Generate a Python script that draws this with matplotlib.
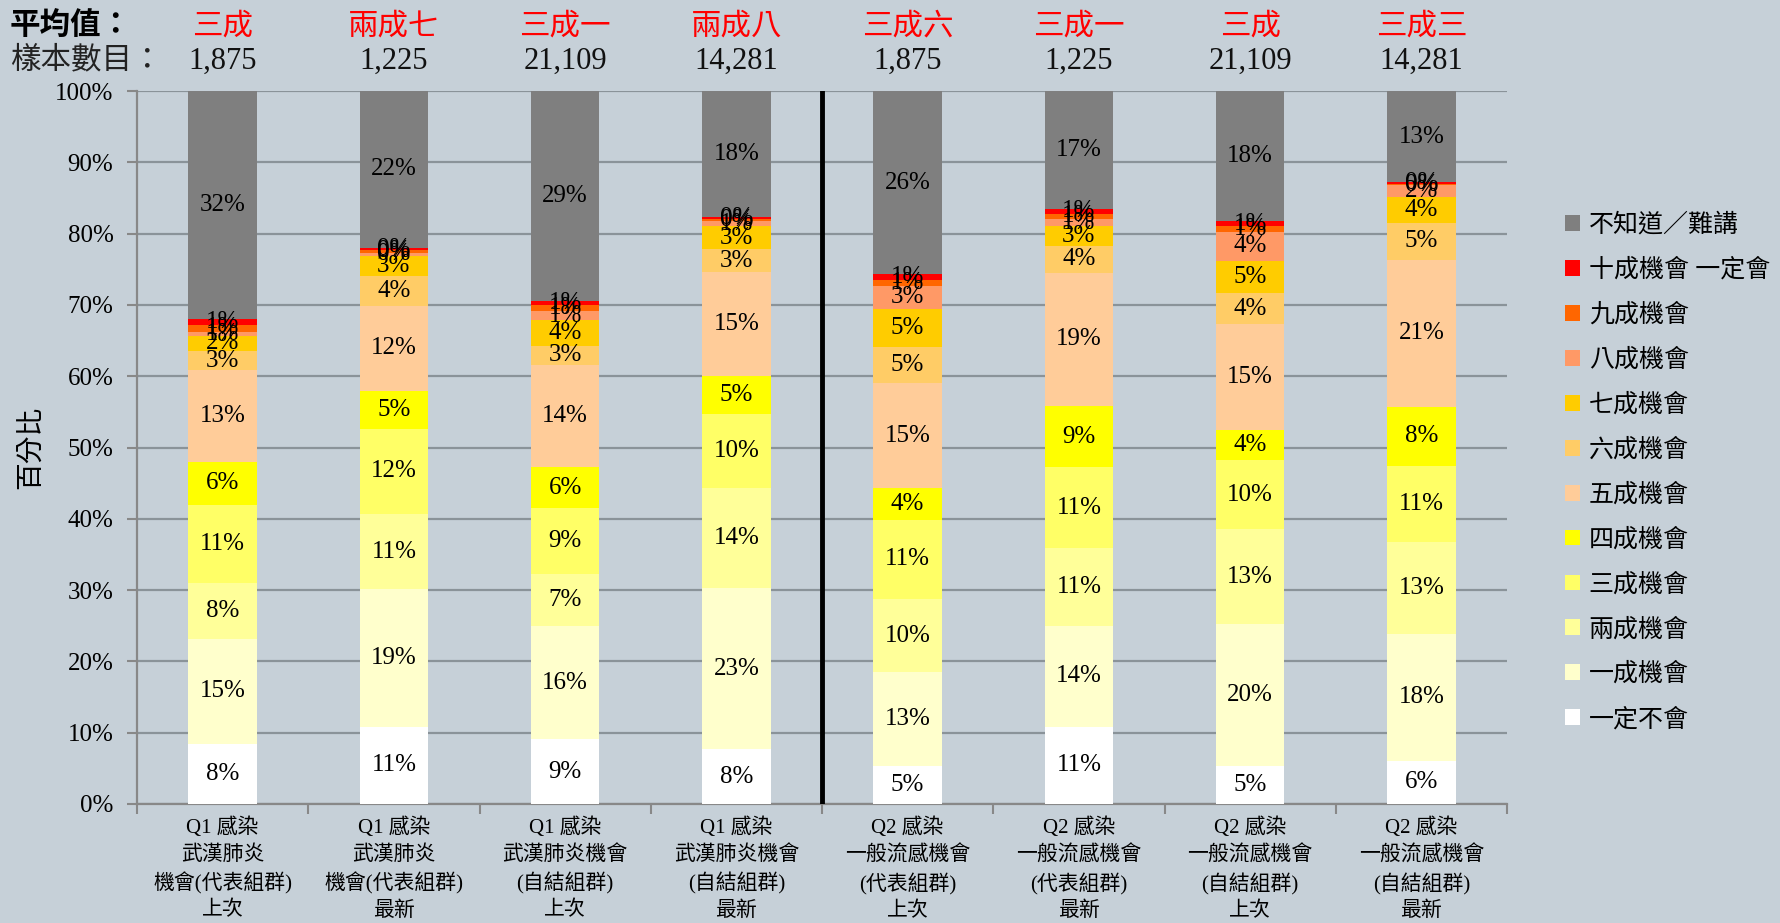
import numpy as np
import matplotlib
matplotlib.use("Agg")
import matplotlib.pyplot as plt
from matplotlib.patches import Patch
from matplotlib.transforms import blended_transform_factory

plt.rcParams['font.family'] = ['Liberation Serif', 'Noto Sans CJK TC']

# 類別 (由下而上)
levels = ['一定不會', '一成機會', '兩成機會', '三成機會', '四成機會', '五成機會',
          '六成機會', '七成機會', '八成機會', '九成機會', '十成機會 一定會', '不知道／難講']
colors = ['#ffffff', '#ffffcc', '#ffff99', '#ffff66', '#ffff00', '#ffcc99',
          '#ffcc66', '#ffcc00', '#ff9966', '#ff6600', '#ff0000', '#7f7f7f']

xlabels = ['Q1 感染\n武漢肺炎\n機會(代表組群)\n上次',
           'Q1 感染\n武漢肺炎\n機會(代表組群)\n最新',
           'Q1 感染\n武漢肺炎機會\n(自結組群)\n上次',
           'Q1 感染\n武漢肺炎機會\n(自結組群)\n最新',
           'Q2 感染\n一般流感機會\n(代表組群)\n上次',
           'Q2 感染\n一般流感機會\n(代表組群)\n最新',
           'Q2 感染\n一般流感機會\n(自結組群)\n上次',
           'Q2 感染\n一般流感機會\n(自結組群)\n最新']
averages = ['三成', '兩成七', '三成一', '兩成八', '三成六', '三成一', '三成', '三成三']
samples = ['1,875', '1,225', '21,109', '14,281', '1,875', '1,225', '21,109', '14,281']

# 每一行是一條棒 (百分比, 由一定不會到不知道)
bar1 = [8.4, 14.8, 7.8, 11.0, 6.0, 12.8, 2.8, 2.0, 0.6, 1.0, 0.8, 32.0]
bar2 = [10.8, 19.3, 10.6, 11.9, 5.3, 12.0, 4.1, 2.9, 0.4, 0.4, 0.3, 22.0]
bar3 = [9.1, 15.8, 7.3, 9.3, 5.7, 14.4, 2.7, 3.6, 1.2, 0.9, 0.6, 29.4]
bar4 = [7.7, 22.6, 14.0, 10.4, 5.3, 14.6, 3.2, 3.2, 0.7, 0.3, 0.3, 17.7]
bar5 = [5.3, 13.2, 10.2, 11.2, 4.4, 14.7, 5.1, 5.3, 3.3, 0.8, 0.8, 25.7]
bar6 = [10.8, 14.2, 10.9, 11.3, 8.6, 18.7, 3.8, 2.7, 1.1, 0.7, 0.6, 16.6]
bar7 = [5.3, 19.9, 13.4, 9.6, 4.3, 14.8, 4.3, 4.6, 4.0, 0.8, 0.8, 18.2]
bar8 = [6.1, 17.8, 12.8, 10.7, 8.3, 20.6, 5.2, 3.7, 1.6, 0.1, 0.3, 12.8]

data = np.array([bar1, bar2, bar3, bar4, bar5, bar6, bar7, bar8])

bg = '#c6d0d8'
fig = plt.figure(figsize=(17.81, 9.23), dpi=100, facecolor=bg)
ax = fig.add_axes([137/1781, 119/923, 1370/1781, 713/923], facecolor=bg)

x = np.arange(len(xlabels))
bottom = np.zeros(len(xlabels))
for j in range(len(levels)):
    vals = data[:, j]
    ax.bar(x, vals, 0.4, bottom=bottom, color=colors[j], zorder=3, linewidth=0)
    for i in range(len(x)):
        ax.text(x[i], bottom[i] + vals[i] / 2, '%d%%' % round(vals[i]),
                ha='center', va='center', fontsize=18, zorder=4)
    bottom += vals

ax.set_xlim(-0.5, 7.5)
ax.set_ylim(0, 100)
ax.set_yticks(np.arange(0, 101, 10))
ax.set_yticklabels(['%d%%' % v for v in range(0, 101, 10)], fontsize=18)
ax.grid(axis='y', color='#8a9399', linewidth=1.6, zorder=0)
ax.axvline(3.5, color='black', linewidth=3.5, zorder=5)

ax.set_xticks(x)
ax.set_xticklabels(xlabels, fontsize=15, linespacing=1.45)
ax.set_xticks(np.arange(-0.5, 8, 1), minor=True)
ax.tick_params(axis='x', which='major', length=0, pad=10)
ax.tick_params(axis='x', which='minor', length=7, color='#888888', width=1.5)
ax.tick_params(axis='y', length=7, color='#888888', width=1.5, pad=10)

for s in ['top', 'right']:
    ax.spines[s].set_visible(False)
for s in ['left', 'bottom']:
    ax.spines[s].set_color('#888888')
    ax.spines[s].set_linewidth(1.6)

ax.set_ylabel('百分比', fontsize=20, labelpad=7)

# 上方的平均值與樣本數目
tr = blended_transform_factory(ax.transData, fig.transFigure)
for i in range(len(x)):
    ax.text(x[i], 1 - 27/923, averages[i], transform=tr,
            ha='center', va='center', fontsize=22, color='#ff0000')
    ax.text(x[i], 1 - 61/923, samples[i], transform=tr,
            ha='center', va='center', fontsize=22, color='#111111')
fig.text(10/1781, 1 - 27/923, '平均值：', ha='left', va='center', fontsize=22, fontweight='bold')
fig.text(10/1781, 1 - 61/923, '樣本數目：', ha='left', va='center', fontsize=22, color='#222222')

handles = [Patch(facecolor=colors[j], edgecolor='none', label=levels[j])
           for j in range(len(levels) - 1, -1, -1)]
fig.legend(handles=handles, loc='upper left', bbox_to_anchor=(1555/1781, 1 - 203/923),
           frameon=False, fontsize=18, handlelength=0.6, handleheight=0.6,
           handletextpad=0.35, labelspacing=0.86, borderaxespad=0)

fig.savefig('out.png', dpi=100, facecolor=bg)
